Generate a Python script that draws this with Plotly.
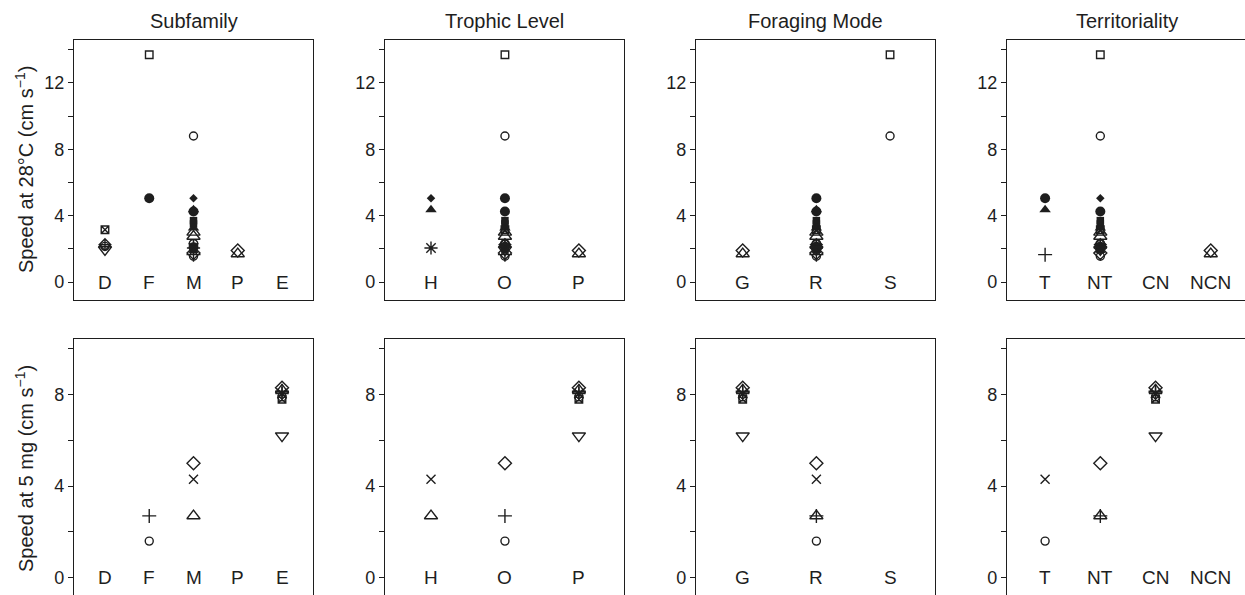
import plotly.graph_objects as go
from plotly.subplots import make_subplots

# ---------------- categories ----------------
SUBFAMILY = ['D', 'F', 'M', 'P', 'E']
TROPHIC = ['H', 'O', 'P']
FORAGING = ['G', 'R', 'S']
TERRITORIALITY = ['T', 'NT', 'CN', 'NCN']
PANEL_TITLES = ['Subfamily', 'Trophic Level', 'Foraging Mode', 'Territoriality']
ROW_TITLES = ['Speed at 28°C (cm s<sup>−1</sup>)', 'Speed at 5 mg (cm s<sup>−1</sup>)']

# ---------------- top row: speed at 28 °C ----------------
top_symbol = ['square-open', 'circle-open', 'circle', 'diamond', 'triangle-up',
              'circle', 'square', 'square', 'triangle-up', 'square-x-open',
              'triangle-up-open', 'triangle-up-open', 'circle-cross-open', 'diamond-cross-open',
              'circle-open', 'circle', 'asterisk-open', 'square', 'triangle-down-open',
              'diamond-open', 'triangle-up-open', 'cross-thin-open', 'circle-open', 'diamond-open']
top_speed = [13.7, 8.8, 5.05, 5.05, 4.35,
             4.25, 3.7, 3.5, 3.25, 3.15,
             3.0, 2.75, 2.3, 2.25,
             2.15, 2.1, 2.05, 1.95, 1.95,
             1.9, 1.7, 1.65, 1.55, 1.75]
top_subfamily = ['F', 'M', 'F', 'M', 'M',
                 'M', 'M', 'M', 'M', 'D',
                 'M', 'M', 'M', 'D',
                 'D', 'M', 'M', 'M', 'D',
                 'P', 'P', 'M', 'M', 'M']
top_trophic = ['O', 'O', 'O', 'H', 'H',
               'O', 'O', 'O', 'O', 'O',
               'O', 'O', 'O', 'O',
               'O', 'O', 'H', 'O', 'O',
               'P', 'P', 'O', 'O', 'O']
top_foraging = ['S', 'S', 'R', 'R', 'R',
                'R', 'R', 'R', 'R', 'R',
                'R', 'R', 'R', 'R',
                'R', 'R', 'R', 'R', 'R',
                'G', 'G', 'R', 'R', 'R']
top_territory = ['NT', 'NT', 'T', 'NT', 'T',
                 'NT', 'NT', 'NT', 'NT', 'NT',
                 'NT', 'NT', 'NT', 'NT',
                 'NT', 'NT', 'NT', 'NT', 'NT',
                 'NCN', 'NCN', 'T', 'NT', 'NT']

# ---------------- bottom row: speed at 5 mg ----------------
bot_symbol = ['cross-thin-open', 'circle-open', 'diamond-open', 'x-thin-open', 'triangle-up-open',
              'triangle-down-open', 'diamond-open', 'triangle-up-open', 'cross-thin-open',
              'asterisk-open', 'circle-open', 'square-x-open']
bot_speed = [2.7, 1.6, 5.0, 4.3, 2.7,
             6.2, 8.3, 8.2, 8.15,
             8.05, 7.9, 7.8]
bot_subfamily = ['F', 'F', 'M', 'M', 'M', 'E', 'E', 'E', 'E', 'E', 'E', 'E']
bot_trophic = ['O', 'O', 'O', 'H', 'H', 'P', 'P', 'P', 'P', 'P', 'P', 'P']
bot_foraging = ['R', 'R', 'R', 'R', 'R', 'G', 'G', 'G', 'G', 'G', 'G', 'G']
bot_territory = ['NT', 'T', 'NT', 'T', 'NT', 'CN', 'CN', 'CN', 'CN', 'CN', 'CN', 'CN']

# ---------------- styling ----------------
INK = '#1e1e1e'
FONT = 'Liberation Sans, Arial, Helvetica, sans-serif'
SIZE = {'square-open': 7.5, 'circle-open': 8, 'circle': 10, 'diamond': 6.5, 'triangle-up': 10,
        'square': 7.5, 'square-x-open': 7.5, 'triangle-up-open': 11.5, 'circle-cross-open': 8.5,
        'diamond-cross-open': 9, 'asterisk-open': 11, 'triangle-down-open': 11.5,
        'diamond-open': 10, 'cross-thin-open': 10, 'x-thin-open': 9}

W, H = 1245, 595
col_left = [74, 385, 696, 1007]
panel_w = 239
row_px = [(40, 300), (339, 595)]
xranges = [[0.30, 5.70], [0.378, 3.61], [0.366, 3.61], [0.31, 4.62]]
yranges = [[-1.085, 14.59], [-0.756, 10.43]]
ytickvals = [[0, 4, 8, 12], [0, 4, 8]]

cats = [SUBFAMILY, TROPHIC, FORAGING, TERRITORIALITY]
top_groups = [top_subfamily, top_trophic, top_foraging, top_territory]
bot_groups = [bot_subfamily, bot_trophic, bot_foraging, bot_territory]

fig = make_subplots(rows=2, cols=4)
annotations = []

for r, (symbols, speeds, groups) in enumerate([(top_symbol, top_speed, top_groups),
                                                (bot_symbol, bot_speed, bot_groups)]):
    for c in range(4):
        idx = r * 4 + c + 1
        sfx = '' if idx == 1 else str(idx)
        cat = cats[c]
        xs = [cat.index(g) + 1 for g in groups[c]]
        # category labels drawn inside the panel at y = 0
        for i, lab in enumerate(cat):
            annotations.append(dict(text=lab, xref='x' + sfx, yref='y' + sfx, x=i + 1, y=0,
                                    xanchor='center', yanchor='middle', showarrow=False,
                                    font=dict(family=FONT, size=19, color=INK)))
        for x, y, s in zip(xs, speeds, symbols):
            filled = not s.endswith('open')
            fig.add_trace(go.Scatter(x=[x], y=[y], mode='markers',
                                     marker=dict(symbol=s, size=SIZE[s], color=INK,
                                                 line=dict(color=INK, width=0 if filled else 1.4)),
                                     showlegend=False),
                          row=r + 1, col=c + 1)

for r in range(2):
    for c in range(4):
        idx = r * 4 + c + 1
        sfx = '' if idx == 1 else str(idx)
        x0 = col_left[c] / W
        x1 = min(1.0, (col_left[c] + panel_w) / W)
        y0 = 1 - row_px[r][1] / H
        y1 = 1 - row_px[r][0] / H
        fig.layout['xaxis' + sfx].update(domain=[x0, x1], range=xranges[c],
                                         showline=True, mirror=True, linecolor=INK, linewidth=1.3,
                                         ticks='', showticklabels=False, showgrid=False, zeroline=False)
        fig.layout['yaxis' + sfx].update(domain=[max(0, y0), y1], range=yranges[r],
                                         tickvals=ytickvals[r],
                                         ticks='outside', ticklen=5, tickwidth=1.3, tickcolor=INK,
                                         minor=dict(tick0=0, dtick=2, ticks='outside', ticklen=5,
                                                    tickwidth=1.3, tickcolor=INK, showgrid=False),
                                         showline=True, mirror=True, linecolor=INK, linewidth=1.3,
                                         showgrid=False, zeroline=False,
                                         tickfont=dict(family=FONT, size=18, color=INK))

for c in range(4):
    annotations.append(dict(text=PANEL_TITLES[c], xref='paper', yref='paper',
                            x=(col_left[c] + panel_w / 2) / W, y=1 - 21 / H,
                            xanchor='center', yanchor='middle', showarrow=False,
                            font=dict(family=FONT, size=20, color=INK)))
for r in range(2):
    cy = (row_px[r][0] + (row_px[r][0] + 260)) / 2
    annotations.append(dict(text=ROW_TITLES[r], xref='paper', yref='paper',
                            x=24 / W, y=1 - cy / H, textangle=-90,
                            xanchor='center', yanchor='middle', showarrow=False,
                            font=dict(family=FONT, size=20, color=INK)))

fig.update_layout(width=W, height=H, autosize=False,
                  margin=dict(l=0, r=0, t=0, b=0),
                  paper_bgcolor='white', plot_bgcolor='white',
                  annotations=annotations, showlegend=False,
                  font=dict(family=FONT, color=INK))

fig.write_html('out.html')
